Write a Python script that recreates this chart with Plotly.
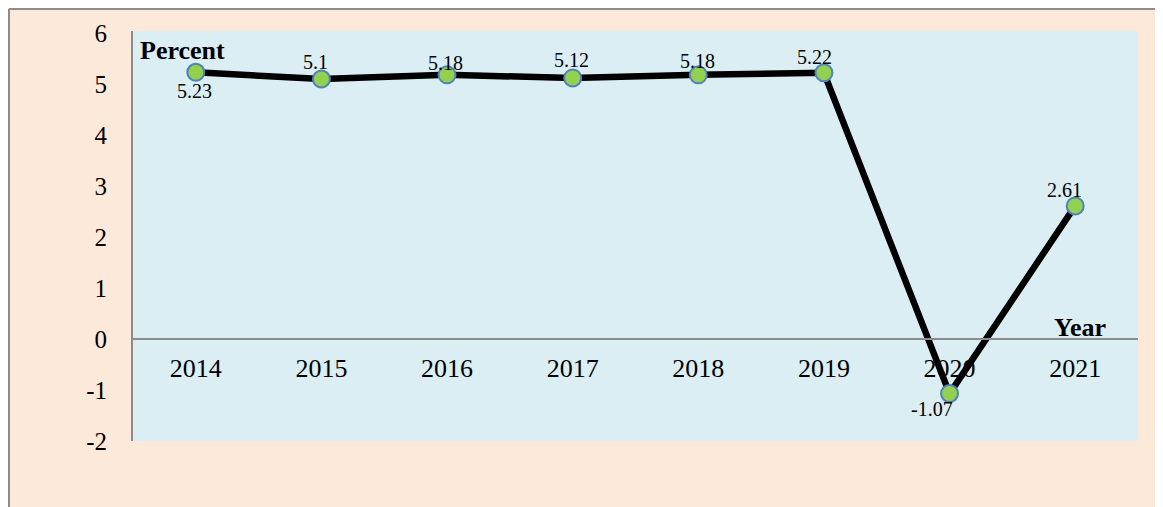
import plotly.graph_objects as go

years = ["2014", "2015", "2016", "2017", "2018", "2019", "2020", "2021"]
growth = [5.23, 5.1, 5.18, 5.12, 5.18, 5.22, -1.07, 2.61]
y_ticks = [-2, -1, 0, 1, 2, 3, 4, 5, 6]

# style: pixel offsets of each data label from its point (x, y)
label_offsets = [(-1, -19), (-6, 17), (-2, 12), (-1, 18), (-1, 14),
                 (-9, 16), (-18, -15), (-11, 16)]

# page has 8px body margin; figure coordinates = page coordinates - 8
OFF = 8
W, H = 1163 - OFF, 507 - OFF
L, R, T, B = 133 - OFF, 1138 - OFF, 31 - OFF, 441 - OFF
pw, ph = R - L, B - T


def px(x):
    return (x - OFF - L) / pw


def py(y):
    return (B - (y - OFF)) / ph


font = "Liberation Serif, Times New Roman, serif"

fig = go.Figure()
fig.add_trace(go.Scatter(
    x=years, y=growth, mode="lines+markers",
    line=dict(color="black", width=6.5),
    marker=dict(size=17, color="#92D050", line=dict(color="#4F81BD", width=2)),
    cliponaxis=False, showlegend=False, hoverinfo="skip",
))

fig.update_layout(
    width=W, height=H,
    margin=dict(l=L, r=W - R, t=T, b=H - B, pad=0),
    paper_bgcolor="#FDE9D9", plot_bgcolor="#DAEEF3",
    font=dict(family=font, size=26, color="black"),
    xaxis=dict(type="category", categoryarray=years, range=[-0.5, 7.5],
               anchor="free",
               position=(441 - 339) / ph, showline=True, linecolor="#8C8C8C",
               linewidth=2, showgrid=False, zeroline=False, ticks="",
               tickfont=dict(family=font, size=26), ticklabelstandoff=6),
    yaxis=dict(range=[-2, 6.04], tickvals=y_ticks,
               ticktext=[str(v) for v in y_ticks], showgrid=False,
               zeroline=False, showline=True, linecolor="#8C8C8C",
               linewidth=2, ticks="", ticklabelstandoff=19,
               tickfont=dict(family=font, size=25)),
)

# data labels
for i, (v, (dx, dy)) in enumerate(zip(growth, label_offsets)):
    fig.add_annotation(xref="x", yref="y", x=i, y=v, text=str(v),
                       showarrow=False, xshift=dx, yshift=dy,
                       xanchor="center", yanchor="middle",
                       font=dict(family=font, size=20, color="black"))

fig.add_annotation(text="<b>Percent</b>", xref="paper", yref="paper",
                   x=px(138), y=py(50), xanchor="left", yanchor="middle",
                   showarrow=False, font=dict(family=font, size=26))
fig.add_annotation(text="<b>Year</b>", xref="paper", yref="paper",
                   x=px(1108), y=py(327), xanchor="right", yanchor="middle",
                   showarrow=False, font=dict(family=font, size=26))

# outer frame: left and top edges
fig.add_shape(type="line", xref="paper", yref="paper",
              x0=px(9), x1=px(9), y0=py(507), y1=py(9),
              line=dict(color="#8C8C8C", width=2), layer="above")
fig.add_shape(type="line", xref="paper", yref="paper",
              x0=px(9), x1=px(1163), y0=py(9), y1=py(9),
              line=dict(color="#8C8C8C", width=2), layer="above")

fig.write_html("out.html")
